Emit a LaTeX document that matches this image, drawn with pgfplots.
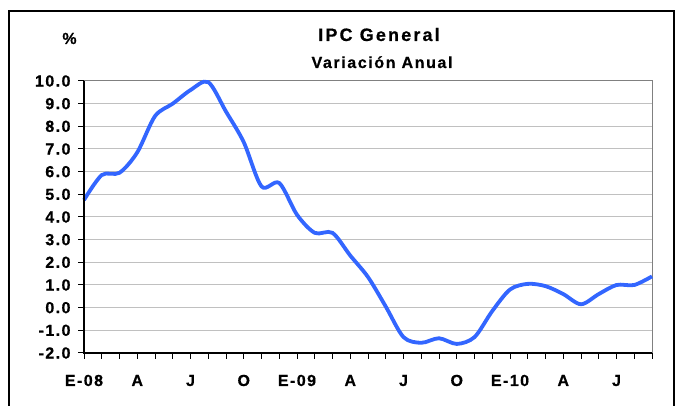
\documentclass[border=0pt]{standalone}
\usepackage{fontspec}
\setmainfont{Liberation Sans}
\newfontfamily\tickfont{Liberation Sans Bold}[LetterSpace=9,FakeBold=0.6]
\newfontfamily\titlefont{Liberation Sans Bold}[LetterSpace=12,FakeBold=0.6]
\newfontfamily\subfont{Liberation Sans Bold}[LetterSpace=10,FakeBold=0.6]
\usepackage{pgfplots}
\pgfplotsset{compat=1.18}
\definecolor{ipcblue}{RGB}{51,102,255}
\definecolor{gridgray}{RGB}{192,192,192}
\definecolor{boxgray}{RGB}{128,128,128}
\begin{document}
\begin{tikzpicture}[x=1pt,y=1pt]
\begin{axis}[
  at={(84pt,53pt)}, anchor=south west,
  scale only axis, width=568pt, height=272pt,
  xmin=0, xmax=32, ymin=-2, ymax=10,
  xtick={0,...,32},
  xticklabels={E-08,,,A,,,J,,,O,,,E-09,,,A,,,J,,,O,,,E-10,,,A,,,J,,},
  ytick={-2,...,10},
  yticklabels={-2.0,-1.0,0.0,1.0,2.0,3.0,4.0,5.0,6.0,7.0,8.0,9.0,10.0},
  tick align=outside, xtick pos=bottom, ytick pos=left,
  major tick length=6pt,
  tick style={black, line width=1pt},
  ymajorgrids, grid style={gridgray, line width=1pt},
  axis line style={boxgray, line width=1pt},
  xticklabel style={font=\tickfont\fontsize{16}{18}\selectfont, anchor=base, yshift=-27pt},
  yticklabel style={font=\tickfont\fontsize{16}{18}\selectfont, anchor=east, xshift=-4pt},
  clip=false,
]
\addplot[ipcblue, line width=3.8pt, smooth] coordinates {
(0,4.75) (1,5.85) (2,5.95) (3,6.85) (4,8.45) (5,9.0) (6,9.6) (7,9.95)
(8,8.65) (9,7.3) (10,5.35) (11,5.5) (12,4.1) (13,3.3) (14,3.3) (15,2.3)
(16,1.35) (17,0.05) (18,-1.3) (19,-1.55) (20,-1.35) (21,-1.6) (22,-1.3)
(23,-0.15) (24,0.8) (25,1.05) (26,0.95) (27,0.6) (28,0.15) (29,0.6)
(30,1.0) (31,1.0) (32,1.38)
};
\draw[black, line width=1.3pt] (rel axis cs:0,1) -- (rel axis cs:0,0) -- (rel axis cs:1,0);
\end{axis}
\node[anchor=base, inner sep=0pt] at (379pt,365pt) {\titlefont\fontsize{18}{21}\selectfont IPC General};
\node[anchor=base, inner sep=0pt] at (382pt,338pt) {\subfont\fontsize{16}{19}\selectfont Variación Anual};
\node[anchor=base, inner sep=0pt] at (69.5pt,362pt) {\tickfont\fontsize{16}{18}\selectfont \%};
\draw[black, line width=1.2pt] (9pt,-10pt) -- (9pt,395pt) -- (674pt,395pt) -- (674pt,-10pt);
\pgfresetboundingbox
\path[use as bounding box] (0,0) rectangle (675pt,406pt);
\end{tikzpicture}
\end{document}
